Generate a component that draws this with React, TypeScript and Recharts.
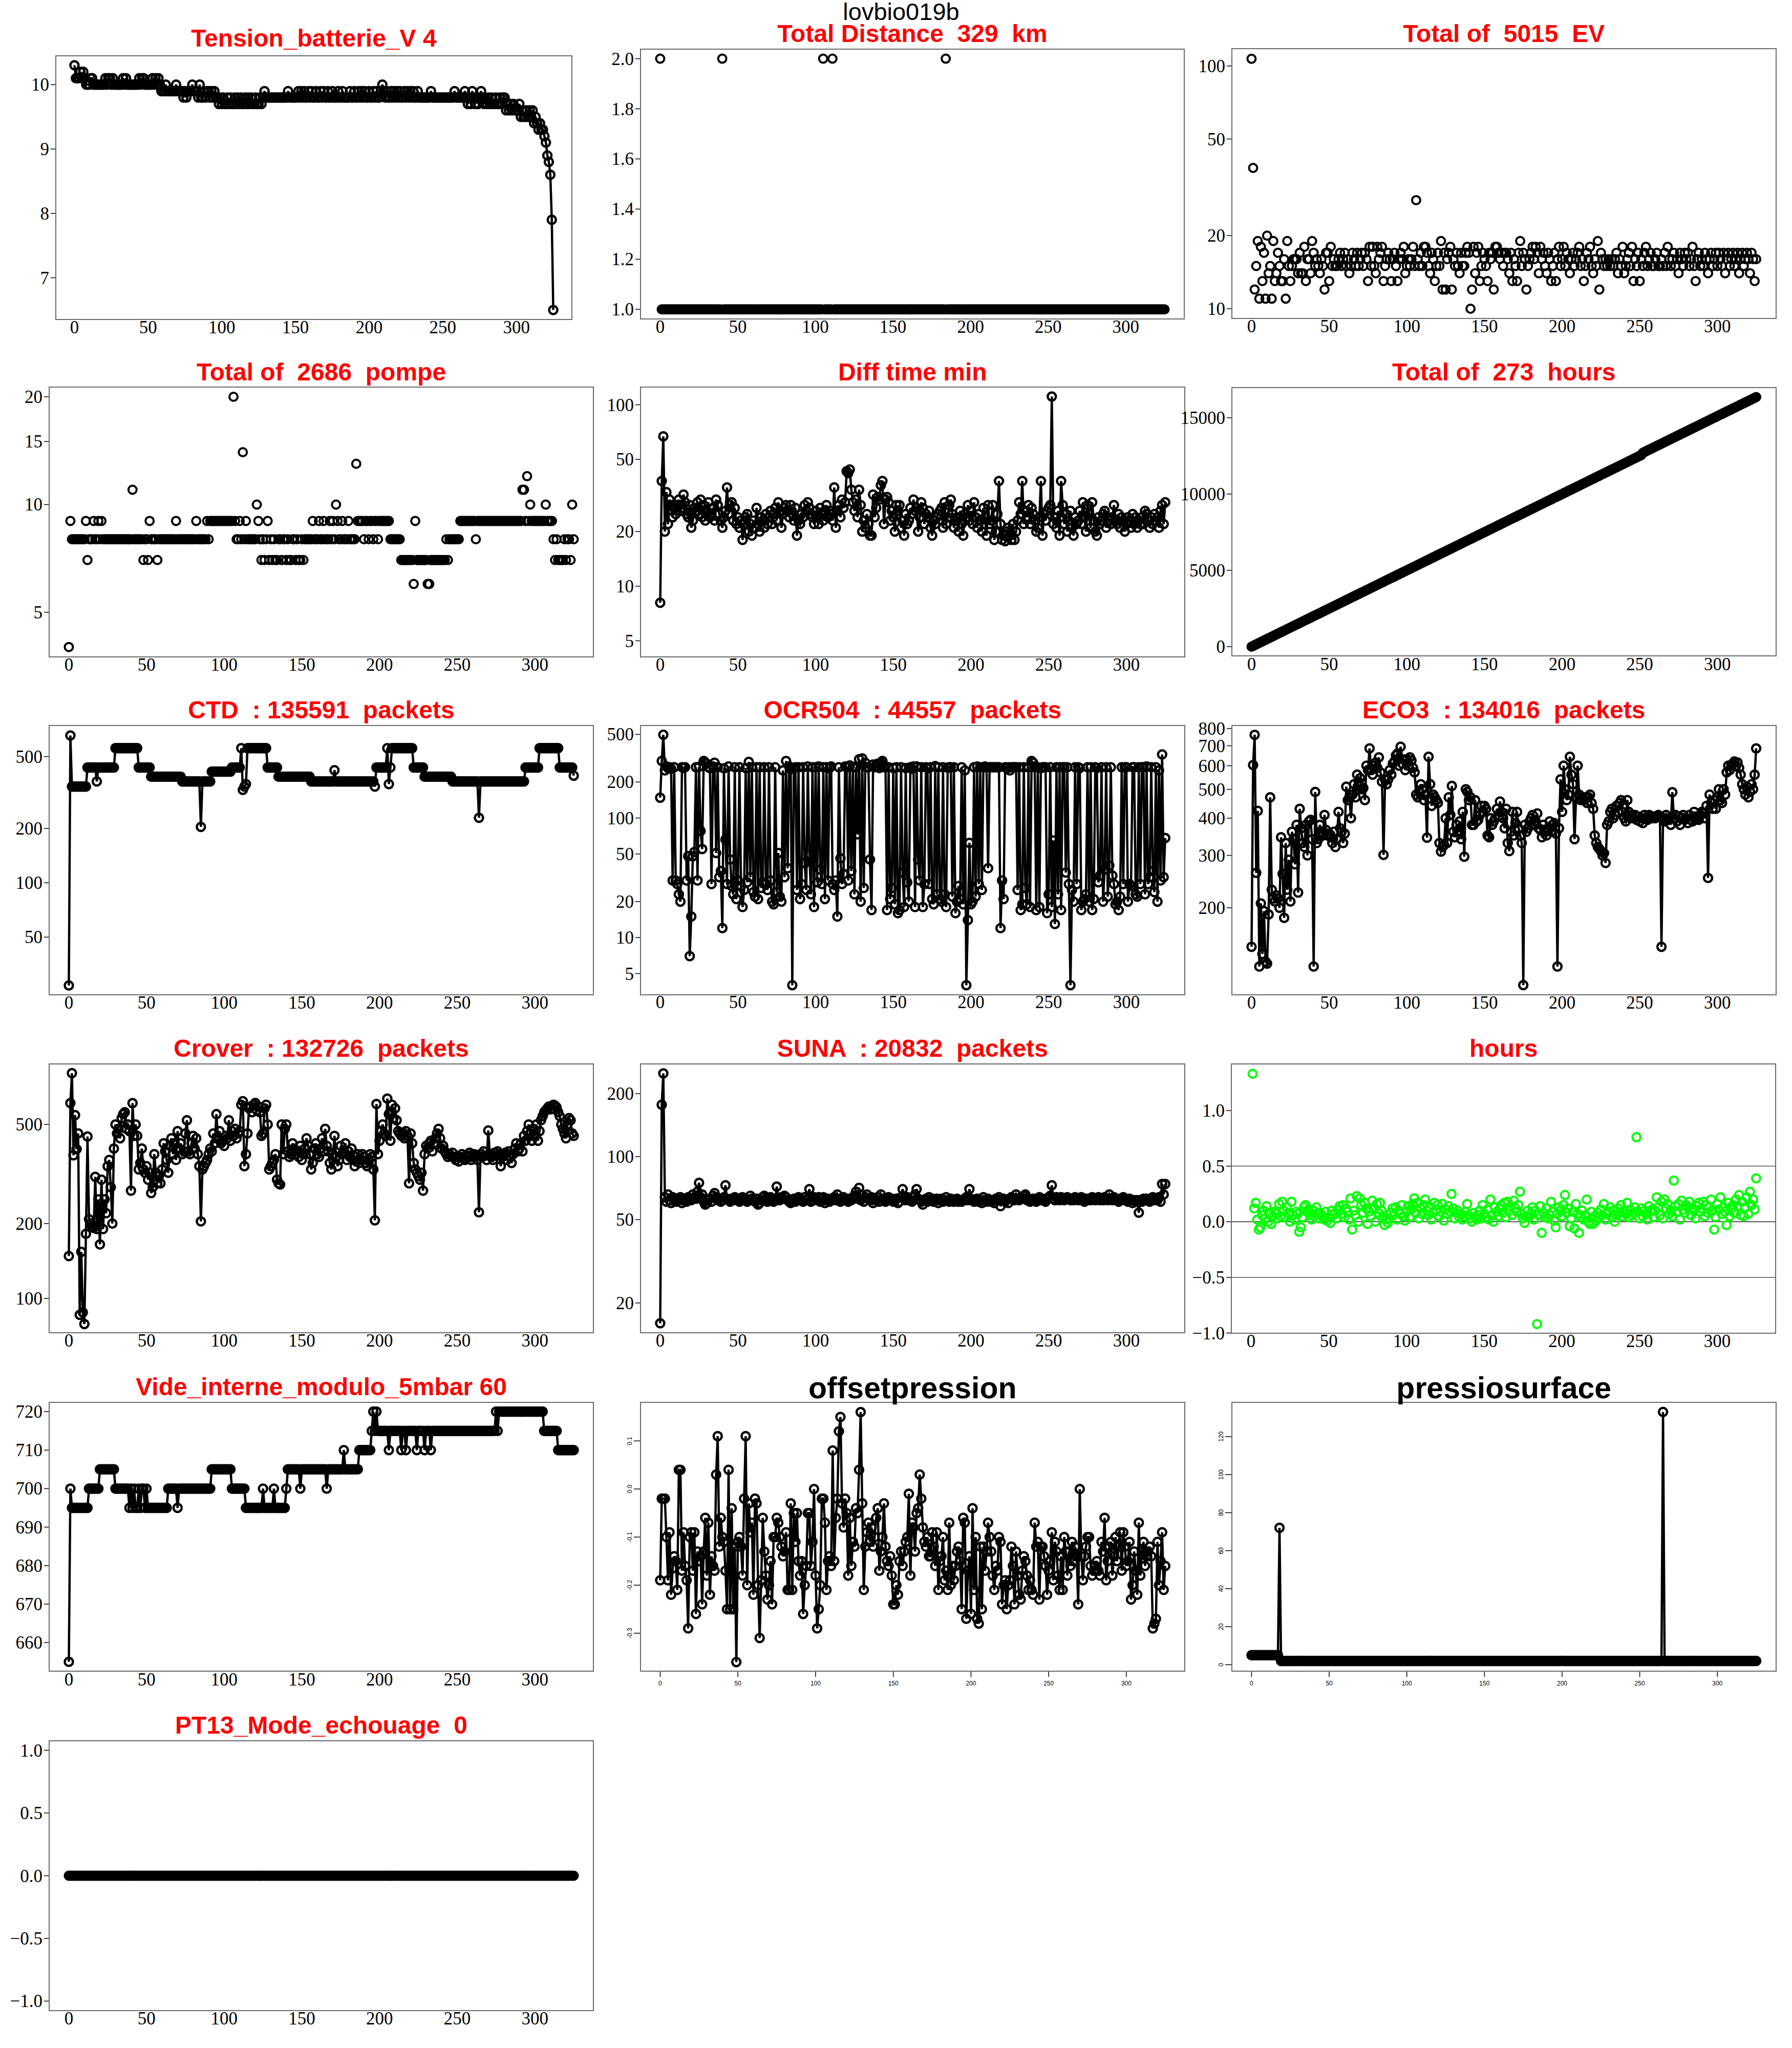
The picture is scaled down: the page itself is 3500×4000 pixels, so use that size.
import React from 'react';
import { ComposedChart, Line, XAxis, YAxis, ReferenceLine } from 'recharts';

// ---------------- data ----------------
const X_TICKS = [0, 50, 100, 150, 200, 250, 300];
const X_DOMAIN: [number, number] = [-13, 338];

const tensionValues = [
  10.3,10.1,10.1,10.1,10.2,10.1,10.2,10.1,10.0,10.0,
  10.0,10.1,10.1,10.0,10.0,10.0,10.0,10.0,10.0,10.0,
  10.0,10.1,10.0,10.1,10.1,10.0,10.1,10.0,10.0,10.0,
  10.0,10.0,10.0,10.1,10.0,10.1,10.0,10.0,10.0,10.0,
  10.0,10.0,10.0,10.0,10.1,10.0,10.1,10.1,10.0,10.0,
  10.0,10.0,10.0,10.1,10.0,10.1,10.0,10.1,10.0,9.9,
  9.9,9.9,10.0,9.9,9.9,9.9,9.9,9.9,9.9,10.0,
  9.9,9.9,9.9,9.9,9.8,9.9,9.8,9.9,9.9,9.9,
  10.0,9.9,9.9,9.9,9.8,10.0,9.8,9.8,9.9,9.8,
  9.9,9.9,9.8,9.9,9.8,9.9,9.8,9.8,9.7,9.8,
  9.7,9.8,9.7,9.7,9.8,9.7,9.8,9.7,9.7,9.8,
  9.7,9.8,9.7,9.8,9.7,9.7,9.8,9.7,9.8,9.7,
  9.8,9.7,9.7,9.8,9.7,9.7,9.8,9.7,9.8,9.9,
  9.8,9.8,9.8,9.8,9.8,9.8,9.8,9.8,9.8,9.8,
  9.8,9.8,9.8,9.8,9.8,9.9,9.8,9.8,9.8,9.8,
  9.8,9.8,9.9,9.8,9.9,9.8,9.9,9.8,9.8,9.9,
  9.8,9.9,9.8,9.8,9.9,9.8,9.8,9.9,9.8,9.9,
  9.8,9.8,9.9,9.8,9.8,9.9,9.8,9.8,9.8,9.9,
  9.8,9.8,9.9,9.8,9.8,9.8,9.8,9.9,9.8,9.8,
  9.9,9.8,9.8,9.9,9.8,9.9,9.8,9.9,9.8,9.8,
  9.9,9.8,9.8,9.9,9.8,9.9,9.8,9.8,9.9,10.0,
  9.9,9.8,9.9,9.8,9.8,9.9,9.8,9.9,9.8,9.9,
  9.8,9.9,9.8,9.8,9.9,9.8,9.9,9.8,9.9,9.8,
  9.9,9.8,9.8,9.9,9.8,9.8,9.8,9.8,9.8,9.8,
  9.8,9.8,9.9,9.8,9.8,9.8,9.8,9.8,9.8,9.8,
  9.8,9.8,9.8,9.8,9.8,9.8,9.8,9.8,9.9,9.8,
  9.8,9.8,9.8,9.8,9.8,9.9,9.8,9.7,9.8,9.7,
  9.9,9.8,9.7,9.8,9.7,9.8,9.9,9.8,9.7,9.8,
  9.7,9.8,9.7,9.8,9.7,9.7,9.8,9.7,9.7,9.8,
  9.7,9.8,9.8,9.6,9.7,9.6,9.7,9.6,9.7,9.6,
  9.6,9.6,9.7,9.5,9.6,9.5,9.5,9.6,9.5,9.6,
  9.5,9.6,9.4,9.5,9.4,9.3,9.4,9.3,9.3,9.2,
  9.1,8.9,8.8,8.6,7.9,6.5,
];

const distanceRuns = [[2,1],[1,39],[2,1],[1,64],[2,1],[1,5],[2,1],[1,72],[2,1],[1,141]];

const evValues = [
  107,38,12,15,19,11,18,13,17,11,
  20,14,15,11,19,13,14,17,15,13,
  13,16,11,19,15,13,15,16,16,16,
  14,17,14,14,18,13,16,16,14,19,
  17,15,16,15,14,16,15,12,17,17,
  13,18,15,16,15,15,16,17,15,16,
  17,15,16,14,15,17,16,15,17,15,
  16,17,15,17,16,13,18,15,18,15,
  14,18,16,17,18,13,15,16,17,16,
  13,16,17,15,13,16,17,16,18,14,
  15,16,15,16,18,15,28,16,15,17,
  15,18,18,17,15,14,17,16,13,15,
  17,15,19,12,17,12,16,17,18,12,
  16,15,17,15,14,17,15,15,17,18,
  17,10,12,18,14,17,18,13,15,17,
  16,15,13,17,16,17,12,18,18,17,
  16,17,15,17,17,16,14,17,13,16,
  15,13,17,19,15,17,16,12,15,16,
  17,18,16,18,17,14,18,16,17,15,
  14,17,16,13,15,17,13,16,18,15,
  16,18,15,17,16,14,16,17,15,16,
  17,18,15,16,13,15,17,16,18,15,
  14,16,15,19,12,17,16,15,16,15,
  16,15,16,15,16,17,14,16,15,18,
  14,15,16,17,15,18,13,16,15,17,
  13,16,15,17,18,15,16,17,15,15,
  16,17,15,15,16,15,17,15,18,16,
  15,16,17,15,16,14,17,16,15,17,
  16,17,15,16,18,15,13,16,17,15,
  16,15,17,16,14,16,17,15,16,17,
  15,17,16,15,17,14,16,17,15,16,
  17,15,16,17,14,16,17,15,16,17,
  16,14,17,16,13,16,
];

const pompeValues = [
  4,9,8,8,8,8,8,8,8,8,
  8,9,7,8,8,8,9,8,8,9,
  8,9,8,8,8,8,8,8,8,8,
  8,8,8,8,8,8,8,8,8,8,
  8,11,8,8,8,8,8,8,7,8,
  8,7,9,8,8,8,8,7,8,8,
  8,8,8,8,8,8,8,8,8,9,
  8,8,8,8,8,8,8,8,8,8,
  8,8,9,8,8,8,8,8,8,9,
  8,9,9,9,9,9,9,9,9,9,
  9,9,9,9,9,9,20,9,8,8,
  9,8,14,8,9,8,8,8,8,8,
  8,10,9,8,7,8,7,8,9,7,
  8,7,8,7,7,8,8,7,8,8,
  7,8,7,7,8,8,7,8,7,7,
  8,7,8,8,8,8,8,9,8,8,
  8,9,8,8,9,8,8,8,9,8,
  9,8,10,9,8,8,9,8,8,8,
  9,8,8,8,8,13,9,9,9,9,
  8,9,9,8,9,9,8,9,9,8,
  9,9,9,9,9,9,9,8,8,8,
  8,8,8,8,7,7,7,7,7,7,
  7,7,6,9,7,7,7,7,7,7,
  7,6,6,7,7,7,7,7,7,7,
  7,7,7,8,7,8,8,8,8,8,
  8,8,9,9,9,9,9,9,9,9,
  9,9,8,9,9,9,9,9,9,9,
  9,9,9,9,9,9,9,9,9,9,
  9,9,9,9,9,9,9,9,9,9,
  9,9,11,11,9,12,9,10,9,9,
  9,9,9,9,9,9,9,10,9,9,
  9,9,8,7,8,7,7,7,7,8,
  7,8,8,7,10,8,
];

const diffTimeValues = [
  8.1,38,67,20,33,22,30,28,24,27,
  25,28,30,26,27,32,29,25,24,28,
  21,23,27,26,29,25,30,24,28,23,
  26,29,24,25,27,23,30,28,25,23,
  21,24,26,35,25,28,29,23,27,22,
  24,21,23,18,22,24,25,20,22,19,
  23,21,27,22,20,24,23,21,25,22,
  24,26,22,25,27,23,29,26,21,25,
  27,28,26,24,28,25,23,27,19,23,
  22,25,24,28,26,29,27,25,24,22,
  26,24,22,27,25,23,26,28,24,26,
  25,23,35,21,26,28,24,30,27,29,
  43,42,44,34,29,26,30,24,34,28,
  20,23,21,25,22,19,19,32,24,27,
  31,30,36,38,22,30,31,29,23,26,
  24,20,28,26,28,21,23,19,25,22,
  23,27,25,30,26,27,20,24,29,27,
  22,25,24,26,21,19,23,22,24,25,
  26,27,21,29,22,24,28,30,25,21,
  23,24,20,26,22,19,25,24,28,23,
  26,22,29,24,21,25,23,20,27,24,
  19,28,22,23,28,18,20,25,38,22,
  18,19,17.7,20,21,19,18,22,18,20,
  23,29,25,38,22,26,24,28,22,27,
  25,23,20,21,24,38,19,25,23,26,
  27,28,111,22,24,21,26,19,38,28,
  22,25,20,23,26,21,19,24,22,23,
  26,22,29,24,20,28,25,21,29,23,
  20,19,24,22,23,25,26,21,24,23,
  22,24,28,23,22,25,21,24,23,20,
  22,24,23,21,25,22,24,21,23,22,
  24,22,26,25,23,21,24,22,25,23,
  24,21,26,28,22,29,
];

const totalHoursValues = [
  0,52,98,151,199,252,300,349,401,450,
  502,551,599,652,700,751,803,850,902,951,
  1001,1052,1100,1149,1202,1250,1301,1352,1399,1450,
  1502,1549,1601,1650,1702,1751,1800,1852,1901,1950,
  2003,2051,2100,2152,2200,2249,2302,2350,2401,2452,
  2500,2551,2600,2650,2703,2751,2800,2852,2901,2949,
  3001,3052,3100,3149,3202,3252,3300,3351,3402,3450,
  3501,3552,3600,3650,3703,3751,3800,3852,3901,3950,
  4002,4050,4101,4152,4200,4249,4301,4352,4400,4451,
  4502,4550,4600,4651,4702,4750,4801,4852,4900,4951,
  5002,5050,5101,5150,5201,5252,5300,5351,5402,5450,
  5501,5550,5602,5651,5700,5752,5801,5850,5902,5952,
  6000,6051,6103,6152,6200,6251,6302,6350,6401,6452,
  6500,6551,6602,6650,6701,6752,6800,6851,6902,6950,
  7001,7052,7100,7151,7202,7250,7301,7352,7400,7451,
  7502,7550,7601,7652,7700,7751,7802,7850,7901,7952,
  8000,8051,8102,8150,8201,8252,8300,8351,8402,8450,
  8501,8552,8600,8651,8702,8750,8801,8852,8900,8951,
  9002,9050,9101,9152,9200,9251,9302,9350,9401,9452,
  9500,9551,9602,9650,9701,9752,9800,9851,9902,9950,
  10001,10052,10100,10151,10202,10250,10301,10352,10400,10451,
  10502,10550,10601,10652,10700,10751,10802,10850,10901,10952,
  11000,11051,11102,11150,11201,11252,11300,11351,11402,11450,
  11501,11552,11600,11651,11702,11750,11801,11852,11900,11951,
  12002,12050,12101,12152,12200,12251,12302,12350,12401,12452,
  12500,12551,12700,12752,12800,12851,12902,12950,13001,13052,
  13100,13151,13202,13250,13301,13352,13400,13451,13502,13550,
  13601,13652,13700,13751,13802,13850,13901,13952,14000,14051,
  14102,14150,14201,14252,14300,14351,14402,14450,14501,14552,
  14600,14651,14702,14750,14801,14852,14900,14951,15002,15050,
  15101,15152,15200,15251,15302,15350,15401,15452,15500,15551,
  15602,15650,15701,15752,15800,15851,15902,15950,16001,16052,
  16100,16151,16202,16250,16301,16352,
];

const ctdRuns = [
  [27,1],[654,1],[341,10],[435,6],[364,1],[435,11],[556,15],[435,8],[387,20],[364,12],
  [204,1],[364,6],[413,13],[435,6],[556,1],[327,1],[341,1],[352,1],[556,13],[435,7],
  [387,21],[364,15],[420,1],[364,25],[341,1],[435,7],[556,1],[352,1],[435,1],[556,14],
  [435,7],[387,18],[364,17],[229,1],[364,29],[435,9],[556,13],[435,9],[392,1],
];

const ocrValues = [
  148,300,497,250,270,262,266,258,30,266,
  30,28,23,20,266,262,266,30,48,7,
  15,48,52,266,30,268,78,55,300,292,
  285,266,262,28,270,290,51,266,32,36,
  12,260,66,28,270,45,27,23,266,21,
  30,266,27,18,25,262,29,295,32,266,
  24,22,266,21,266,26,29,266,28,25,
  266,30,20,19,266,24,51,22,20,250,
  32,300,38,270,258,4,262,266,25,266,
  21,28,266,42,25,270,50,23,266,18,
  266,29,270,37,28,266,21,266,30,262,
  270,28,25,30,15,266,46,28,34,270,
  266,30,275,36,268,23,266,73,310,20,
  315,26,290,266,266,45,17,280,266,270,
  285,262,290,300,266,270,17,266,21,26,
  262,19,266,16,17,266,35,18,262,29,
  20,266,258,270,18,270,45,30,266,18,
  28,266,262,28,266,21,19,272,23,266,
  21,20,266,23,18,264,266,266,22,266,
  16,20,27,21,266,19,250,4,14,62,
  19,20,266,22,270,28,266,25,266,270,
  266,38,266,266,266,266,266,266,266,12,
  30,21,266,260,266,250,266,266,266,266,
  25,266,17,19,266,26,19,266,18,300,
  290,266,17,266,18,262,266,266,266,16,
  23,266,18,65,13,266,23,266,17,266,
  266,35,266,28,4,25,20,266,28,266,
  262,17,20,21,23,266,20,266,17,21,
  266,262,29,33,266,20,37,266,22,40,
  266,33,28,19,20,17,22,266,28,266,
  266,20,28,27,266,266,23,22,266,28,
  266,266,23,270,28,32,266,36,24,266,
  20,250,30,340,32,68,
];

const eco3Values = [
  148,603,762,262,423,127,207,140,195,132,
  130,190,470,230,215,210,220,215,200,345,
  260,185,330,230,290,210,360,340,280,380,
  225,430,370,330,320,380,300,390,395,340,
  127,490,330,340,380,360,350,410,365,350,
  355,345,330,360,320,340,420,370,360,330,
  355,510,460,470,400,480,520,470,560,530,
  545,500,505,460,600,580,686,580,560,600,
  615,590,640,570,530,301,540,520,540,580,
  560,610,620,650,660,600,695,610,630,580,
  630,600,640,625,590,570,480,470,490,520,
  500,460,480,344,643,520,440,480,470,460,
  450,330,309,320,325,400,330,470,410,513,
  360,345,380,360,390,340,420,297,500,490,
  460,470,380,380,460,390,395,410,440,420,
  440,430,350,345,400,380,390,400,430,405,
  455,420,400,370,430,330,310,360,420,350,
  385,420,370,350,330,110,380,360,370,390,
  400,410,380,390,415,370,365,345,380,360,
  350,370,390,360,380,385,355,127,370,540,
  420,600,500,460,480,643,560,520,340,470,
  600,480,460,470,460,470,450,470,480,450,
  430,350,330,320,315,310,300,305,283,380,
  390,420,430,400,410,440,420,450,460,420,
  400,390,460,420,400,410,400,410,395,405,
  390,400,385,410,400,395,410,405,400,405,
  400,405,410,405,148,400,390,410,395,400,
  380,489,400,410,390,405,380,400,410,395,
  400,385,410,395,390,420,405,400,395,410,
  420,415,400,440,252,480,450,430,460,430,
  470,500,460,450,500,480,570,600,580,600,
  610,620,600,615,590,560,520,500,480,510,
  470,490,520,500,560,686,
];

const croverValues = [
  148,609,803,376,545,398,460,86,154,88,
  79,182,447,208,200,195,192,308,190,250,
  165,300,190,250,220,340,360,280,200,400,
  500,460,480,440,530,550,560,480,500,470,
  271,609,450,500,450,330,350,400,330,320,
  340,300,320,265,280,380,320,290,310,290,
  330,420,390,360,320,410,440,380,420,360,
  470,400,420,380,390,460,520,390,380,420,
  450,400,440,380,340,204,330,340,350,360,
  380,400,390,460,420,550,440,470,420,430,
  410,450,440,520,430,470,450,480,440,460,
  470,600,620,340,380,460,580,590,560,600,
  610,570,590,560,450,460,580,600,500,330,
  340,350,360,380,300,290,287,500,380,480,
  500,390,370,380,420,400,380,390,370,410,
  360,380,400,440,410,380,330,350,400,420,
  380,370,400,440,390,480,410,390,350,330,
  380,450,370,340,360,410,380,390,420,360,
  390,370,400,360,340,370,380,350,360,380,
  370,350,340,360,380,370,330,206,604,380,
  430,470,500,460,450,635,550,430,600,530,
  580,520,470,460,450,460,440,470,450,290,
  460,420,350,330,320,310,300,320,271,380,
  410,400,420,430,390,420,440,460,480,440,
  400,410,390,380,370,380,375,385,370,360,
  370,355,370,380,365,360,375,370,385,360,
  370,380,375,360,222,380,370,390,375,360,
  473,380,370,360,385,375,390,380,340,370,
  380,385,360,390,370,350,380,400,420,390,
  400,420,390,450,430,470,500,460,430,480,
  450,500,430,470,520,540,560,570,580,590,
  575,580,600,595,585,560,540,500,480,460,
  440,500,530,520,460,450,
];

const sunaValues = [
  16,177,250,64,61,66,62,60,64,63,
  61,63,62,64,60,63,62,61,64,63,
  62,66,64,63,68,75,64,66,61,59,
  60,62,63,61,65,67,64,62,63,61,
  62,64,73,63,62,61,63,62,64,63,
  62,61,63,64,62,63,61,62,65,63,
  62,61,63,59,60,62,64,65,63,61,
  62,64,63,61,62,72,63,62,64,63,
  65,64,62,61,60,62,63,61,62,64,
  63,62,61,64,62,63,70,61,62,64,
  63,62,64,61,63,64,60,62,63,61,
  62,63,64,62,66,63,61,62,64,63,
  62,61,63,62,64,65,68,63,71,62,
  63,61,64,66,63,62,64,60,63,62,
  64,61,66,63,62,61,63,64,62,63,
  61,62,63,60,61,64,70,63,62,64,
  63,62,61,64,66,70,63,62,61,59,
  62,63,61,64,62,63,61,62,63,60,
  62,63,61,62,64,62,61,63,62,61,
  62,63,61,62,61,62,63,64,62,70,
  63,62,61,62,63,61,62,60,64,62,
  61,63,62,61,62,60,63,62,64,58,
  62,63,61,62,60,63,64,63,62,66,
  63,62,64,63,65,66,62,63,61,62,
  63,62,61,63,64,62,63,62,61,63,
  64,65,73,63,62,64,63,62,64,63,
  62,63,64,63,62,63,62,64,63,62,
  63,64,62,61,63,62,63,62,64,63,
  62,63,64,62,63,62,64,63,62,66,
  63,62,64,63,62,61,63,62,64,63,
  62,61,63,62,60,62,61,62,54,62,
  61,63,62,63,62,61,63,64,62,63,
  62,64,61,74,66,74,
];

const hoursValues = [
  null,1.33,0.12,0.17,0.02,-0.07,-0.05,0.06,0.1,0.03,
  0.14,0.0,0.08,-0.02,0.05,0.09,0.07,0.03,0.16,0.05,
  0.18,0.1,0.04,0.13,0.08,0.0,0.18,0.06,0.02,0.09,
  0.07,-0.09,-0.05,0.04,0.13,0.15,0.09,0.11,0.06,0.02,
  0.1,0.05,0.13,0.08,0.03,0.07,0.05,0.02,0.09,0.01,
  0.04,-0.01,0.1,0.06,0.08,0.03,0.11,0.14,0.07,0.15,
  0.04,0.12,0.09,0.02,0.21,-0.07,0.1,0.06,0.23,0.0,
  0.21,0.15,0.08,0.17,0.12,-0.02,0.09,0.05,0.19,0.11,
  0.0,0.16,0.08,0.17,0.1,0.05,-0.03,0.02,-0.01,0.03,
  0.08,0.12,0.06,0.13,0.02,0.1,0.07,0.15,0.05,0.01,
  0.09,0.14,0.04,0.11,0.16,0.21,0.08,0.17,0.03,0.12,
  0.07,0.15,0.2,0.1,0.06,0.13,0.02,0.08,0.17,0.11,
  0.15,0.05,0.09,0.16,0.01,0.11,0.07,0.14,0.09,0.25,
  0.12,0.03,0.08,0.1,0.04,0.07,0.02,0.05,0.09,0.16,
  0.06,0.03,0.0,0.08,0.04,0.02,0.06,0.1,0.03,0.15,
  0.07,0.04,0.11,0.02,0.2,0.06,0.0,0.13,0.09,0.05,
  0.12,0.15,0.08,0.17,0.04,0.18,0.1,0.14,0.06,0.19,
  0.12,0.09,0.15,0.27,0.07,0.03,-0.01,0.05,0.1,0.04,
  0.07,0.13,0.02,0.1,-0.92,0.06,0.14,-0.1,0.08,0.04,
  0.12,0.03,0.06,0.18,0.09,0.01,-0.05,0.07,0.13,0.1,
  0.05,0.15,0.24,0.08,0.12,-0.04,0.03,0.09,-0.06,0.16,
  0.07,-0.1,0.04,0.1,0.02,0.06,0.2,0.0,-0.02,0.09,
  -0.02,0.05,0.01,0.08,0.04,0.11,0.06,0.16,0.02,0.07,
  0.09,0.13,0.04,0.1,0.0,0.06,0.12,0.08,0.15,0.05,
  0.1,0.07,0.17,0.04,0.11,0.06,0.08,0.13,0.76,0.09,
  0.03,0.12,0.05,0.1,0.07,0.02,0.14,0.09,0.11,0.04,
  0.1,0.22,0.13,0.06,0.18,0.03,0.2,0.12,0.16,0.07,
  0.1,0.05,0.37,0.14,0.09,0.16,0.02,0.19,0.11,0.08,
  0.15,0.13,0.18,0.06,0.12,0.1,0.03,0.14,0.17,0.09,
  0.12,0.18,0.05,0.15,0.08,0.13,0.2,0.1,-0.07,0.04,
  0.16,0.11,0.22,0.07,0.13,0.09,-0.03,0.17,0.05,0.12,
  0.15,0.08,0.2,0.14,0.24,0.06,0.18,0.05,0.13,0.22,
  0.07,0.27,0.15,0.2,0.11,0.39,
];
const hoursRefLines = [-0.5, 0, 0.5];

const videRuns = [
  [655,1],[700,1],[695,11],[700,7],[705,10],[700,9],[695,1],[700,1],[695,1],[700,1],
  [695,2],[700,1],[695,1],[700,2],[695,1],[700,1],[695,13],[700,6],[695,1],[700,21],
  [705,13],[700,9],[695,11],[700,1],[695,6],[700,1],[695,7],[700,1],[705,8],[700,1],
  [705,16],[700,1],[705,10],[710,1],[705,9],[710,8],[715,1],[720,1],[715,1],[720,1],
  [715,7],[710,1],[715,7],[710,1],[715,2],[710,1],[715,6],[710,1],[715,4],[710,1],
  [715,3],[710,1],[715,41],[720,1],[715,1],[720,29],[715,9],[710,11],
];

const offsetValues = [
  -0.19,-0.02,-0.02,-0.02,-0.10,-0.19,-0.09,-0.22,-0.165,-0.14,
  -0.15,-0.21,0.04,0.04,-0.17,-0.09,-0.16,-0.19,-0.29,-0.10,
  -0.09,-0.17,-0.09,-0.26,-0.13,-0.15,-0.14,-0.24,-0.13,-0.06,
  -0.18,-0.07,-0.22,-0.14,-0.16,-0.17,0.03,0.11,-0.12,-0.06,
  -0.10,-0.11,-0.17,-0.25,0.04,-0.25,-0.04,-0.25,-0.12,-0.36,
  -0.11,-0.10,-0.12,-0.18,-0.02,0.11,-0.20,-0.03,-0.09,-0.07,
  -0.22,-0.02,-0.03,-0.20,-0.31,-0.19,-0.06,-0.13,-0.18,-0.23,
  -0.20,-0.15,-0.24,-0.10,-0.10,-0.06,-0.07,-0.10,-0.12,-0.14,
  -0.13,-0.09,-0.21,-0.21,-0.03,-0.21,-0.05,-0.11,-0.05,-0.15,
  -0.18,-0.15,-0.26,-0.20,-0.16,-0.05,-0.05,-0.16,-0.11,0.0,
  -0.18,-0.29,-0.25,-0.20,-0.02,-0.02,-0.07,-0.21,-0.15,-0.14,
  -0.16,0.08,-0.15,-0.06,-0.02,0.12,0.15,-0.03,-0.08,-0.02,
  -0.05,-0.18,-0.06,-0.16,-0.11,-0.12,-0.04,-0.05,0.04,0.16,
  -0.03,-0.21,-0.12,-0.09,-0.07,-0.11,-0.08,-0.12,-0.10,-0.06,
  -0.04,-0.17,-0.13,-0.10,-0.03,-0.12,-0.15,-0.16,-0.14,-0.18,
  -0.24,-0.24,-0.20,-0.22,-0.15,-0.13,-0.16,-0.13,-0.11,-0.10,
  -0.01,-0.18,-0.07,-0.08,-0.13,-0.05,-0.04,0.03,-0.02,-0.08,
  -0.11,-0.12,-0.10,-0.14,-0.14,-0.09,-0.12,-0.16,-0.09,-0.21,
  -0.15,-0.14,-0.10,-0.19,-0.17,-0.21,-0.07,-0.20,-0.16,-0.19,
  -0.16,-0.13,-0.12,-0.15,-0.25,-0.06,-0.07,-0.27,-0.17,-0.14,
  -0.26,-0.04,-0.21,-0.10,-0.27,-0.28,-0.12,-0.25,-0.12,-0.17,
  -0.13,-0.07,-0.10,-0.13,-0.18,-0.21,-0.16,-0.17,-0.10,-0.11,
  -0.24,-0.20,-0.19,-0.25,-0.20,-0.19,-0.12,-0.16,-0.24,-0.13,
  -0.18,-0.22,-0.23,-0.17,-0.14,-0.15,-0.18,-0.21,-0.19,-0.21,
  -0.22,-0.07,-0.12,-0.11,-0.23,-0.12,-0.12,-0.14,-0.16,-0.22,
  -0.17,-0.15,-0.09,-0.19,-0.11,-0.13,-0.18,-0.21,-0.14,-0.21,
  -0.10,-0.13,-0.18,-0.13,-0.16,-0.11,-0.15,-0.12,-0.14,-0.24,
  0.0,-0.14,-0.19,-0.14,-0.12,-0.10,-0.10,-0.16,-0.18,-0.17,
  -0.16,-0.15,-0.17,-0.18,-0.11,-0.13,-0.06,-0.19,-0.15,-0.12,
  -0.11,-0.18,-0.14,-0.10,-0.15,-0.12,-0.09,-0.17,-0.09,-0.12,
  -0.16,-0.15,-0.11,-0.23,-0.20,-0.13,-0.17,-0.22,-0.07,-0.18,
  -0.13,-0.11,-0.16,-0.14,-0.13,-0.12,-0.14,-0.29,-0.28,-0.27,
  -0.11,-0.20,-0.15,-0.09,-0.21,-0.16,
];

const pressioRuns = [[5,18],[72,1],[2,246],[133,1],[2,60]];
const pt13Runs = [[0,326]];

// tick labels
const tensionTicks = [7, 8, 9, 10];
const distanceTicks = [1.0, 1.2, 1.4, 1.6, 1.8, 2.0];
const evTicks = [10, 20, 50, 100];
const pompeTicks = [5, 10, 15, 20];
const diffTicks = [5, 10, 20, 50, 100];
const totalHoursTicks = [0, 5000, 10000, 15000];
const ctdTicks = [50, 100, 200, 500];
const ocrTicks = [5, 10, 20, 50, 100, 200, 500];
const eco3Ticks = [200, 300, 400, 500, 600, 700, 800];
const croverTicks = [100, 200, 500];
const sunaTicks = [20, 50, 100, 200];
const hoursTicks = [-1, -0.5, 0, 0.5, 1];
const videTicks = [660, 670, 680, 690, 700, 710, 720];
const offsetTicks = [-0.3, -0.2, -0.1, 0.0, 0.1];
const pressioTicks = [0, 20, 40, 60, 80, 100, 120];
const pt13Ticks = [-1, -0.5, 0, 0.5, 1];

// ---------------- helpers ----------------
function expandRuns(runs: number[][]): number[] {
  const out: number[] = [];
  runs.forEach(([v, n]) => { for (let i = 0; i < n; i++) out.push(v); });
  return out;
}

const SERIF = '"Liberation Serif", "Times New Roman", Times, serif';
const SANS = '"Liberation Sans", Arial, Helvetica, sans-serif';
const RED = '#ff0000';

const fmtInt = (v: number) => String(v);
const fmt1 = (v: number) => v.toFixed(1);
const fmtMinus1 = (v: number) => v.toFixed(1).replace('-', '\u2212');

type Cfg = {
  title: string; titleColor: string; titleSize: number; titleBase: number;
  l: number; t: number; r: number; b: number;
  values: (number | null)[]; yDomain: [number, number]; yTicks: number[];
  log?: boolean; mode: 'line' | 'points'; color?: string; small?: boolean;
  fmt: (v: number) => string; refLines?: number[];
};

const PANELS: Cfg[] = [
  { title: 'Tension_batterie_V 4', titleColor: RED, titleSize: 48, titleBase: 91,
    l: 108, t: 107.5, r: 1118, b: 624.5, values: tensionValues, yDomain: [6.344, 10.456], yTicks: tensionTicks,
    mode: 'line', fmt: fmtInt },
  { title: 'Total Distance  329  km', titleColor: RED, titleSize: 48, titleBase: 82,
    l: 1250, t: 95.4, r: 2314, b: 624.2, values: expandRuns(distanceRuns), yDomain: [0.96, 2.04], yTicks: distanceTicks,
    mode: 'points', fmt: fmt1 },
  { title: 'Total of  5015  EV', titleColor: RED, titleSize: 48, titleBase: 82,
    l: 2405, t: 94.3, r: 3469.5, b: 622.9, values: evValues, yDomain: [9.09, 118.4], yTicks: evTicks, log: true,
    mode: 'points', fmt: fmtInt },
  { title: 'Total of  2686  pompe', titleColor: RED, titleSize: 48, titleBase: 743,
    l: 95, t: 755.1, r: 1160, b: 1283.7, values: pompeValues, yDomain: [3.746, 21.36], yTicks: pompeTicks, log: true,
    mode: 'points', fmt: fmtInt },
  { title: 'Diff time min', titleColor: RED, titleSize: 48, titleBase: 743,
    l: 1249.6, t: 755.1, r: 2314.9, b: 1283.7, values: diffTimeValues, yDomain: [4.06, 126], yTicks: diffTicks, log: true,
    mode: 'line', fmt: fmtInt },
  { title: 'Total of  273  hours', titleColor: RED, titleSize: 48, titleBase: 743,
    l: 2405, t: 755.7, r: 3469.5, b: 1282.2, values: totalHoursValues, yDomain: [-654, 17006], yTicks: totalHoursTicks,
    mode: 'points', fmt: fmtInt },
  { title: 'CTD  : 135591  packets', titleColor: RED, titleSize: 48, titleBase: 1403,
    l: 95, t: 1415.9, r: 1160, b: 1943.7, values: expandRuns(ctdRuns), yDomain: [23.85, 747.6], yTicks: ctdTicks, log: true,
    mode: 'line', fmt: fmtInt },
  { title: 'OCR504  : 44557  packets', titleColor: RED, titleSize: 48, titleBase: 1403,
    l: 1249.6, t: 1416.3, r: 2314.9, b: 1943.7, values: ocrValues, yDomain: [3.31, 599.6], yTicks: ocrTicks, log: true,
    mode: 'line', fmt: fmtInt },
  { title: 'ECO3  : 134016  packets', titleColor: RED, titleSize: 48, titleBase: 1403,
    l: 2405, t: 1416.3, r: 3469.5, b: 1944.5, values: eco3Values, yDomain: [101.6, 822], yTicks: eco3Ticks, log: true,
    mode: 'line', fmt: fmtInt },
  { title: 'Crover  : 132726  packets', titleColor: RED, titleSize: 48, titleBase: 2064,
    l: 95, t: 2077.1, r: 1160, b: 2604.5, values: croverValues, yDomain: [72.4, 879], yTicks: croverTicks, log: true,
    mode: 'line', fmt: fmtInt },
  { title: 'SUNA  : 20832  packets', titleColor: RED, titleSize: 48, titleBase: 2064,
    l: 1249.6, t: 2077.1, r: 2314.9, b: 2604.5, values: sunaValues, yDomain: [14.3, 279], yTicks: sunaTicks, log: true,
    mode: 'line', fmt: fmtInt },
  { title: 'hours', titleColor: RED, titleSize: 48, titleBase: 2064,
    l: 2404, t: 2077.1, r: 3469.4, b: 2604.9, values: hoursValues, yDomain: [-1.0055, 1.423], yTicks: hoursTicks,
    mode: 'points', color: '#00ff00', fmt: fmtMinus1, refLines: hoursRefLines },
  { title: 'Vide_interne_modulo_5mbar 60', titleColor: RED, titleSize: 48, titleBase: 2725,
    l: 95, t: 2737.6, r: 1160, b: 3265.3, values: expandRuns(videRuns), yDomain: [652.35, 722.54], yTicks: videTicks,
    mode: 'line', fmt: fmtInt },
  { title: 'offsetpression', titleColor: '#000', titleSize: 59, titleBase: 2731,
    l: 1249.6, t: 2737.6, r: 2314.9, b: 3264.9, values: offsetValues, yDomain: [-0.3804, 0.1813], yTicks: offsetTicks,
    mode: 'line', small: true, fmt: fmt1 },
  { title: 'pressiosurface', titleColor: '#000', titleSize: 59, titleBase: 2731,
    l: 2405, t: 2737.6, r: 3469.5, b: 3264.9, values: expandRuns(pressioRuns), yDomain: [-3.76, 138.3], yTicks: pressioTicks,
    mode: 'line', small: true, fmt: fmtInt },
  { title: 'PT13_Mode_echouage  0', titleColor: RED, titleSize: 48, titleBase: 3386,
    l: 95, t: 3398.7, r: 1160, b: 3927.7, values: expandRuns(pt13Runs), yDomain: [-1.08, 1.08], yTicks: pt13Ticks,
    mode: 'points', fmt: fmtMinus1 },
];

const PAD_TOP = 40;

function Panel({ cfg }: { cfg: Cfg }) {
  const YW = 150;
  const XH = 70;
  const w = cfg.r - cfg.l;
  const h = cfg.b - cfg.t;
  const color = cfg.color || '#000';
  const data = cfg.values
    .map((y, i) => ({ x: i, y }))
    .filter((d) => d.y !== null && d.y !== undefined);
  const small = !!cfg.small;
  const isLine = cfg.mode === 'line';

  const xTick = (p: any) => (
    <text x={p.x} y={p.y + (small ? 17 : 26)} textAnchor="middle"
      fontFamily={small ? SANS : SERIF} fontSize={small ? 12 : 35} fill="#000">
      {p.payload.value}
    </text>
  );
  const yTick = (p: any) => {
    const label = cfg.fmt(p.payload.value);
    if (small) {
      return (
        <text x={p.x} y={p.y} transform={`rotate(-90 ${p.x} ${p.y})`} textAnchor="middle"
          fontFamily={SANS} fontSize={12} fill="#000">{label}</text>
      );
    }
    return (
      <text x={p.x} y={p.y + 12} textAnchor="end" fontFamily={SERIF} fontSize={35} fill="#000">{label}</text>
    );
  };

  return (
    <>
      <div style={{ position: 'absolute', left: cfg.l - YW, top: cfg.t - PAD_TOP, width: w + YW, height: h + XH + PAD_TOP }}>
        <ComposedChart width={w + YW} height={h + XH + PAD_TOP} data={data}
          margin={{ top: PAD_TOP, right: 0, bottom: 0, left: 0 }}>
          <XAxis dataKey="x" type="number" domain={X_DOMAIN} ticks={X_TICKS} interval={0} height={XH}
            axisLine={false} tickLine={small ? { stroke: '#000', strokeWidth: 1.5 } : false}
            tickSize={small ? 10 : 0} tickMargin={0} tick={xTick} />
          <YAxis type="number" scale={cfg.log ? 'log' : 'linear'} domain={cfg.yDomain} ticks={cfg.yTicks}
            interval={0} width={YW} axisLine={false} tickLine={{ stroke: '#000', strokeWidth: 1.5 }}
            tickSize={small ? 12 : 9} tickMargin={small ? 4 : 3} tick={yTick} />
          {(cfg.refLines || []).map((v) => (
            <ReferenceLine key={v} y={v} stroke={v === 0 ? '#222' : '#555'} strokeWidth={1.5} />
          ))}
          <Line dataKey="y" type="linear" isAnimationActive={false} activeDot={false}
            stroke={isLine ? color : 'none'} strokeWidth={4.5}
            dot={{ r: 8, fill: 'none', stroke: color, strokeWidth: isLine ? 4.5 : 4 }} />
        </ComposedChart>
      </div>
      <div style={{ position: 'absolute', left: cfg.l, top: cfg.t, width: w, height: h,
        border: '2px solid #6a6a6a', boxSizing: 'border-box', pointerEvents: 'none' }} />
    </>
  );
}

export default function App() {
  return (
    <div style={{ position: 'absolute', left: 0, top: 0, width: 3500, height: 4000, background: '#fff', overflow: 'hidden' }}>
      {PANELS.map((p) => <Panel key={p.title} cfg={p} />)}
      <svg width={3500} height={4000} style={{ position: 'absolute', left: 0, top: 0, pointerEvents: 'none' }}>
        <text x={1760} y={39} textAnchor="middle" fontFamily={SANS} fontSize={47} fill="#000">lovbio019b</text>
        {PANELS.map((p) => (
          <text key={p.title} x={(p.l + p.r) / 2} y={p.titleBase} textAnchor="middle" fontFamily={SANS}
            fontWeight="bold" fontSize={p.titleSize} fill={p.titleColor} xmlSpace="preserve"
            style={{ whiteSpace: 'pre' }}>{p.title}</text>
        ))}
      </svg>
    </div>
  );
}
